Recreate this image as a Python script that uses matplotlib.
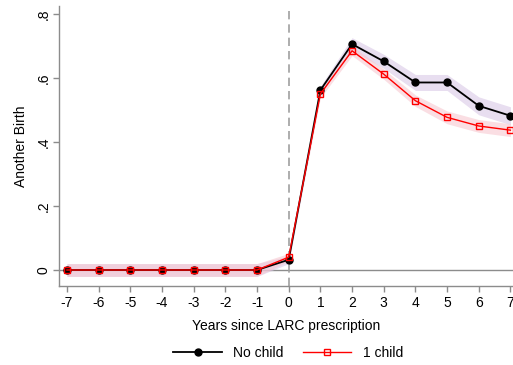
import numpy as np
import matplotlib
matplotlib.use("Agg")
import matplotlib.pyplot as plt
from matplotlib.lines import Line2D

plt.rcParams['font.family'] = ['Liberation Sans', 'DejaVu Sans']

years = np.arange(-7, 8)
no_child = [0, 0, 0, 0, 0, 0, 0, 0.032, 0.562, 0.706, 0.652, 0.586, 0.586, 0.513, 0.482]
no_child_se = [0.02, 0.02, 0.02, 0.02, 0.02, 0.02, 0.02, 0.012, 0.012, 0.02, 0.022, 0.025, 0.025, 0.028, 0.028]
one_child = [0, 0, 0, 0, 0, 0, 0, 0.04, 0.55, 0.685, 0.612, 0.529, 0.477, 0.45, 0.437]
one_child_se = [0.02, 0.02, 0.02, 0.02, 0.02, 0.02, 0.02, 0.012, 0.012, 0.015, 0.016, 0.018, 0.02, 0.02, 0.02]

yticks = [0, 0.2, 0.4, 0.6, 0.8]
ytick_labels = ["0", ".2", ".4", ".6", ".8"]

grey = '#8c8c8c'
text_size = 10

fig = plt.figure(figsize=(5.13, 3.65), dpi=100)
ax = fig.add_axes([59 / 513, 1 - 286 / 365, 1 - 59 / 513, (286 - 6) / 365])

nc = np.array(no_child)
nse = np.array(no_child_se)
oc = np.array(one_child)
ose = np.array(one_child_se)

# confidence bands
ax.fill_between(years, nc - nse, nc + nse, color='#d9c8e6', alpha=0.6, lw=0, zorder=1)
ax.fill_between(years, oc - ose, oc + ose, color='#f7c4cc', alpha=0.55, lw=0, zorder=1)

ax.axhline(0, color=grey, lw=1, zorder=0.5)
ax.axvline(0, color='#a0a0a0', lw=1.2, ls=(0, (5, 3)), zorder=0.5)

ax.plot(years, nc, color='black', lw=1.3, marker='o', markersize=5, zorder=3)
ax.plot(years, oc, color='red', lw=1.0, marker='s', markersize=5,
        markerfacecolor='none', markeredgecolor='red', markeredgewidth=1.0, zorder=4)

ax.set_xlim(-7.25, 7.08)
ax.set_ylim(-0.05, 0.825)
ax.set_xticks(years)
ax.set_xticklabels([str(y) for y in years])
ax.set_yticks(yticks)
ax.set_yticklabels(ytick_labels, rotation=90, va='center')

for s in ['top', 'right']:
    ax.spines[s].set_visible(False)
for s in ['left', 'bottom']:
    ax.spines[s].set_color(grey)
    ax.spines[s].set_linewidth(1)
ax.tick_params(colors='black', labelsize=text_size, length=4, color=grey, width=1)
ax.tick_params(axis='y', pad=2)

ax.set_ylabel("Another Birth", fontsize=text_size, labelpad=6)
ax.set_xlabel("Years since LARC prescription", fontsize=text_size, labelpad=6)

handles = [
    Line2D([], [], color='black', lw=1.3, marker='o', markersize=5),
    Line2D([], [], color='red', lw=1.0, marker='s', markersize=5,
           markerfacecolor='none', markeredgecolor='red'),
]
fig.legend(handles, ["No child", "1 child"], loc='center', bbox_to_anchor=(288 / 513, 1 - 353 / 365),
           ncol=2, frameon=False, fontsize=text_size, handlelength=3.5, columnspacing=1.4)

fig.savefig("out.png", dpi=100)
